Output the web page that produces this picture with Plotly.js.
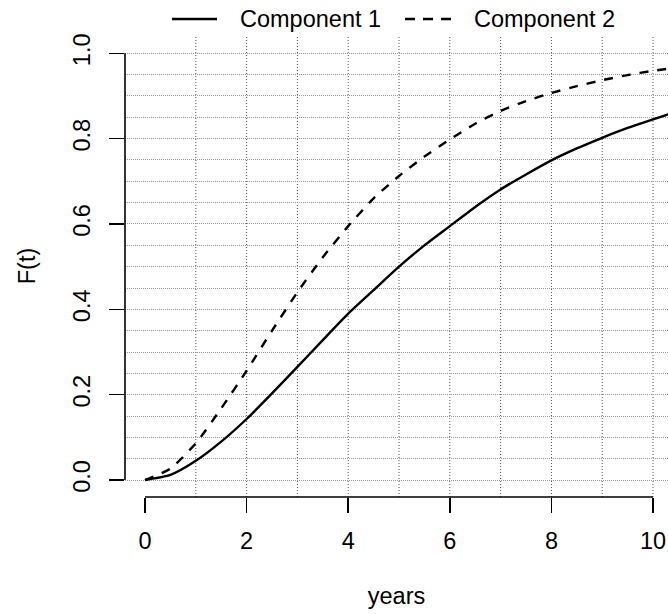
<!DOCTYPE html>
<html>
<head>
<meta charset="utf-8">
<script src="https://cdn.plot.ly/plotly-3.0.1.min.js"></script>
<style>html,body{margin:0;padding:0;background:#fff;}#chart{width:668px;height:614px;}</style>
</head>
<body>
<div id="chart"></div>
<script>
// Data
const years = [0, 0.5, 1, 1.5, 2, 2.5, 3, 3.5, 4, 4.5, 5, 5.5, 6, 6.5, 7, 7.5, 8, 8.5, 9, 9.5, 10, 10.3];
const component1 = [0, 0.012, 0.045, 0.09, 0.143, 0.203, 0.265, 0.328, 0.39, 0.445, 0.5, 0.55, 0.595, 0.64, 0.681, 0.716, 0.749, 0.777, 0.802, 0.825, 0.845, 0.857];
const component2 = [0, 0.027, 0.086, 0.168, 0.256, 0.35, 0.44, 0.522, 0.595, 0.66, 0.7125, 0.758, 0.798, 0.835, 0.865, 0.888, 0.907, 0.923, 0.937, 0.949, 0.959, 0.964];
const seriesNames = ["Component 1", "Component 2"];
const xTicks = [0, 2, 4, 6, 8, 10];
const yTicks = [0, 0.2, 0.4, 0.6, 0.8, 1.0];
const yTickText = ["0.0", "0.2", "0.4", "0.6", "0.8", "1.0"];
const xGrid = [1, 2, 3, 4, 5, 6, 7, 8, 9, 10];

const FONT = "Liberation Sans, Arial, Helvetica, sans-serif";
const FS = 23.5;

const traces = [
  {x: years, y: component1, name: seriesNames[0], mode: "lines", showlegend: false,
   line: {color: "#000", width: 2.4, shape: "spline", smoothing: 0.6}},
  {x: years, y: component2, name: seriesNames[1], mode: "lines", showlegend: false,
   line: {color: "#000", width: 2.4, dash: "9px,9px", shape: "spline", smoothing: 0.6}}
];

const shapes = [];
// vertical dotted grid
xGrid.forEach(v => shapes.push({type: "line", layer: "below", xref: "x", yref: "paper", x0: v, x1: v, y0: 0, y1: 1,
  line: {color: "#555", width: 1, dash: "1px,2px"}}));
// R-style axis lines spanning first to last tick
shapes.push({type: "line", xref: "x", yref: "paper", x0: xTicks[0], x1: xTicks[xTicks.length-1], y0: 0, y1: 0,
  line: {color: "#000", width: 1.6}});
shapes.push({type: "line", xref: "paper", yref: "y", x0: 0, x1: 0, y0: yTicks[0], y1: yTicks[yTicks.length-1],
  line: {color: "#000", width: 1.6}});
// legend samples
shapes.push({type: "line", xref: "paper", yref: "paper", x0: 0.0866, x1: 0.1694, y0: 1.0346, y1: 1.0346,
  line: {color: "#000", width: 2.4}});
shapes.push({type: "line", xref: "paper", yref: "paper", x0: 0.5157, x1: 0.6004, y0: 1.0346, y1: 1.0346,
  line: {color: "#000", width: 2.4, dash: "10px,8px"}});

const annotations = [
  {text: seriesNames[0], xref: "paper", yref: "paper", x: 0.2081, y: 1.0346, xanchor: "left", yanchor: "middle",
   showarrow: false, font: {family: FONT, size: FS, color: "#000"}},
  {text: seriesNames[1], xref: "paper", yref: "paper", x: 0.639, y: 1.0346, xanchor: "left", yanchor: "middle",
   showarrow: false, font: {family: FONT, size: FS, color: "#000"}}
];

const layout = {
  width: 668, height: 614,
  margin: {l: 125, r: 0, t: 35, b: 117, pad: 0},
  paper_bgcolor: "#fff", plot_bgcolor: "#fff",
  font: {family: FONT, size: FS, color: "#000"},
  showlegend: false,
  xaxis: {
    range: [-0.394, 10.295], autorange: false, fixedrange: true,
    tickvals: xTicks, ticktext: xTicks.map(String),
    ticks: "outside", ticklen: 15, tickwidth: 1.6, tickcolor: "#000",
    ticklabelstandoff: 8,
    showgrid: false, zeroline: false, showline: false,
    title: {text: "years", font: {family: FONT, size: FS}, standoff: 34},
    automargin: false
  },
  yaxis: {
    range: [-0.0398, 1.0429], autorange: false, fixedrange: true,
    tickvals: yTicks, ticktext: yTickText, tickangle: -90,
    ticks: "outside", ticklen: 15, tickwidth: 1.6, tickcolor: "#000",
    ticklabelstandoff: 10,
    showgrid: true, gridcolor: "#999", gridwidth: 1, griddash: "1px,1px",
    minor: {dtick: 0.05, tick0: 0, showgrid: true, gridcolor: "#999", gridwidth: 1, griddash: "1px,1px", ticks: ""},
    zeroline: false, showline: false,
    title: {text: "F(t)", font: {family: FONT, size: FS}, standoff: 26},
    automargin: false
  },
  shapes: shapes,
  annotations: annotations
};

Plotly.newPlot("chart", traces, layout, {displayModeBar: false, staticPlot: true});
</script>
</body>
</html>
